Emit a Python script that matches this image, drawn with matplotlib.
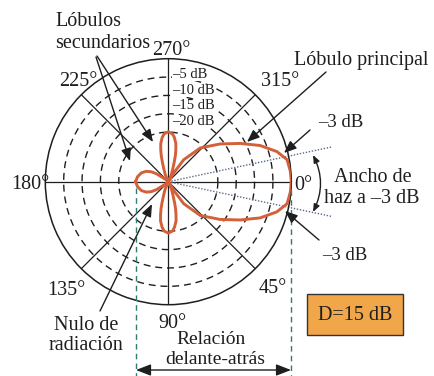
import numpy as np
import matplotlib.pyplot as plt
from matplotlib.patches import Rectangle

plt.rcParams['font.family'] = ['Liberation Serif', 'DejaVu Serif']

# Radiation pattern: angle (deg, clockwise from 0 deg at the right) and level (dB)
pattern_deg = [-180, -170.8, -161.6, -154.5, -149.5, -146.3, -144.5, -140.2, -137,
               -116, -113.2, -109.1, -106.7, -105.1, -103.2, -101.2, -97.8, -94.8, -90,
               -85.2, -82.2, -78.8, -76.8, -74.9, -73.3, -70.9, -66.8, -64,
               -62, -58, -55, -46.5, -36, -28, -21.5, -15.5, -10.5, -5, 0,
               5, 10.5, 15.5, 21.5, 28, 36, 46.5, 55, 58, 62,
               64, 66.8, 70.9, 73.3, 74.9, 76.8, 78.8, 82.2, 85.2, 90,
               94.8, 97.8, 101.2, 103.2, 105.1, 106.7, 109.1, 113.2, 116,
               137, 140.2, 144.5, 146.3, 149.5, 154.5, 161.6, 170.8, 180]
pattern_db = [-24.6, -25.0, -25.8, -26.9, -28.2, -29.6, -31.2, -32.5, -33.5,
              -33.5, -31.4, -29.7, -27.8, -26.1, -24.5, -22.9, -21.3, -20.4, -19.9,
              -20.4, -21.3, -22.9, -24.5, -26.1, -27.8, -29.7, -31.4, -33.5,
              -33.5, -30.8, -26.2, -20.8, -16, -11.3, -6.6, -2.8, -0.6, -0.15, 0,
              -0.15, -0.6, -2.8, -6.6, -11.3, -16, -20.8, -26.2, -30.8, -33.5,
              -33.5, -31.3, -29.6, -27.6, -25.9, -24.3, -22.6, -21.0, -20.0, -19.5,
              -20.0, -21.0, -22.6, -24.3, -25.9, -27.6, -29.6, -31.3, -33.5,
              -33.5, -32.5, -31.2, -29.6, -28.2, -26.9, -25.8, -25.0, -24.6]

ring_db = [-5, -10, -15, -20]
ring_labels = ['–5 dB', '–10 dB', '–15 dB', '–20 dB']
spoke_deg = [0, 45, 90, 135, 180, 225, 270, 315]
beam_half_deg = 12
r_min = -33.5

W, H = 434, 376
cx, cy, R = 168.3, 181.7, 123
ink = '#1e1e1e'

fig = plt.figure(figsize=(W / 100, H / 100), dpi=100)

# polar diagram
ax = fig.add_axes([(cx - R) / W, (H - cy - R) / H, 2 * R / W, 2 * R / H], projection='polar')
ax.set_theta_zero_location('E')
ax.set_theta_direction(-1)
ax.set_ylim(r_min, 0)
ax.set_xticks([])
ax.set_yticks([])
ax.grid(False)
ax.spines['polar'].set_linewidth(1.1)
ax.spines['polar'].set_color(ink)

th_full = np.linspace(0, 2 * np.pi, 361)
for db in ring_db:
    ax.plot(th_full, np.full_like(th_full, db), ls=(0, (5, 3.5)), color=ink, lw=1)
for a in spoke_deg:
    ax.plot([np.deg2rad(a)] * 2, [r_min, 0], color=ink, lw=0.9)
for s in (-1, 1):
    ax.plot([np.deg2rad(s * beam_half_deg)] * 2, [r_min, 12.2], ls=(0, (1, 1.2)),
            color='#5a6a85', lw=1, clip_on=False)

ax.plot(np.deg2rad(pattern_deg), pattern_db, color='#d4603a', lw=2.1,
        solid_joinstyle='round', zorder=5)

# overlay in pixel coordinates for labels and callouts
ov = fig.add_axes([0, 0, 1, 1])
ov.set_xlim(0, W)
ov.set_ylim(H, 0)
ov.axis('off')

big = 14.5


def txt(x, y, s, ha='center', size=big, **kw):
    ov.text(x, y, s, ha=ha, va='baseline', fontsize=size, color=ink, **kw)


def arrow(x0, y0, x1, y1, style='-|>,head_length=0.75,head_width=0.3', **kw):
    ov.annotate('', xy=(x1, y1), xytext=(x0, y0),
                arrowprops=dict(arrowstyle=style, color=ink, lw=1,
                                shrinkA=0, shrinkB=0, **kw))


# angle labels
angle_labels = [('270°', 171, 55), ('225°', 78, 86), ('315°', 280, 86), ('180°', 30, 189),
                ('0°', 303, 190), ('135°', 66, 295), ('90°', 172, 328), ('45°', 273, 293)]
for s, x, y in angle_labels:
    txt(x, y, s)

# dB ring labels
for s, y in zip(ring_labels, [78, 94, 109, 125]):
    ov.text(172, y, s, ha='left', va='baseline', fontsize=10.5, color=ink,
            bbox=dict(facecolor='white', edgecolor='none', pad=0.2))

# callout texts
txt(55, 26, 'Lóbulos', ha='left')
txt(55, 48, 'secundarios', ha='left')
txt(361, 65, 'Lóbulo principal')
txt(341, 127, '–3 dB', size=13.5)
txt(345, 260, '–3 dB', size=13.5)
txt(373, 182, 'Ancho de')
txt(372, 203, 'haz a –3 dB')
txt(86, 330, 'Nulo de')
txt(86, 350, 'radiación')
txt(211, 344, 'Relación', size=14)
txt(215, 364, 'delante-atrás', size=14)

# arrows
arrow(326, 72, 247, 142)
arrow(97, 56, 153, 142)
arrow(96, 57, 130, 161)
arrow(100, 311, 152, 204)
arrow(310, 130, 284, 153)
arrow(319, 240, 285, 211)
arrow(136, 370, 291, 370, style='<|-|>,head_length=0.9,head_width=0.35')
arrow(313, 155, 313, 212, style='<|-|>,head_length=0.45,head_width=0.18',
      connectionstyle='arc3,rad=-0.25')

# front/back extent markers
ov.plot([135.5, 135.5], [188, 376], ls=(0, (4, 3)), color='#2e7d6e', lw=1)
ov.plot([291, 291], [190, 376], ls=(0, (4, 3)), color='#2e7d6e', lw=1)

# directivity box
ov.add_patch(Rectangle((307, 294), 96, 41, facecolor='#f2a64a', edgecolor='#333333', lw=1))
ov.text(355, 315, 'D=15 dB', ha='center', va='center', fontsize=big, color=ink)

fig.savefig('out.png', dpi=100)
